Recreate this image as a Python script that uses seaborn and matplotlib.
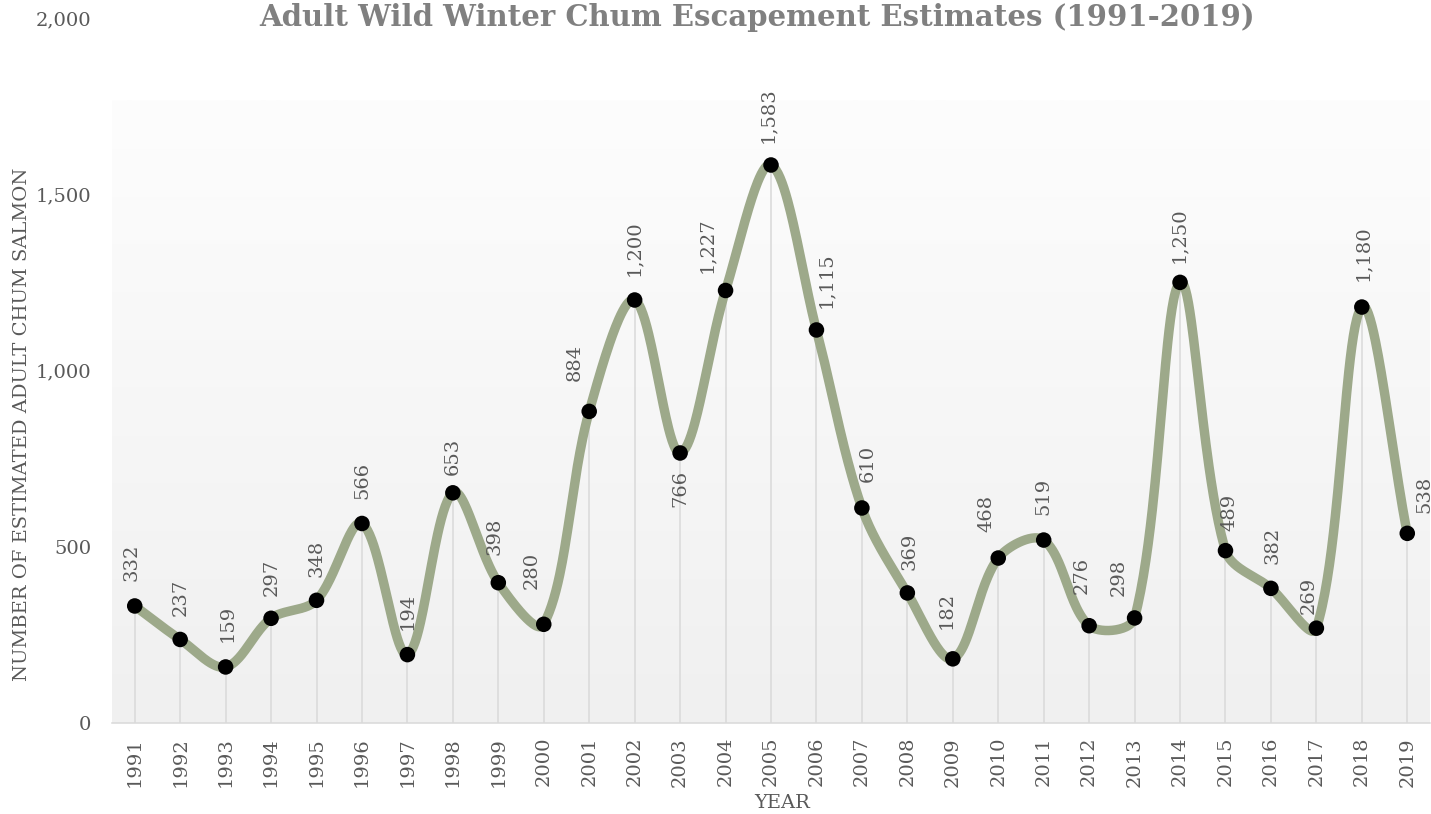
import numpy as np
import pandas as pd
import matplotlib
matplotlib.use("Agg")
import matplotlib.pyplot as plt
import seaborn as sns
from matplotlib.colors import LinearSegmentedColormap

# ---- data -------------------------------------------------------------
years = list(range(1991, 2020))
escapement = [332, 237, 159, 297, 348, 566, 194, 653, 398, 280,
              884, 1200, 766, 1227, 1583, 1115, 610, 369, 182, 468,
              519, 276, 298, 1250, 489, 382, 269, 1180, 538]
y_ticks = [0, 500, 1000, 1500, 2000]

title = "Adult Wild Winter Chum Escapement Estimates (1991-2019)"
x_title = "YEAR"
y_title = "NUMBER OF ESTIMATED ADULT CHUM SALMON"

# data-label placement in pixels: (sideways shift, gap from marker centre;
# a negative gap puts the label under the marker)
label_shift = {
    1991: (-3, 25), 1992: (1, 23), 1993: (2, 25), 1994: (1, 22),
    1995: (0, 23), 1996: (0, 24), 1997: (0, 25), 1998: (0, 18),
    1999: (-4, 28), 2000: (-12, 35), 2001: (-14, 30), 2002: (-1, 24),
    2003: (0, -17), 2004: (-19, 17), 2005: (-3, 22), 2006: (10, 22),
    2007: (6, 26), 2008: (2, 23), 2009: (-6, 30), 2010: (-12, 26),
    2011: (0, 25), 2012: (-7, 32), 2013: (-16, 22), 2014: (-1, 19),
    2015: (4, 20), 2016: (2, 24), 2017: (-8, 14), 2018: (1, 26),
    2019: (17, 20),
}

# ---- style ------------------------------------------------------------
LINE = "#9DA98A"
TEXT = "#595959"
RULE = "#D9D9D9"
PX = 0.72  # points per pixel at 100 dpi
FS = 14

sns.set_theme(style="white")
plt.rcParams["font.family"] = ["DejaVu Serif"]

W, H = 1431, 814
AX_L, AX_R, AX_T, AX_B = 112, 1430, 18, 723
fig = plt.figure(figsize=(W / 100, H / 100), dpi=100)
ax = fig.add_axes([AX_L / W, (H - AX_B) / H,
                   (AX_R - AX_L) / W, (AX_B - AX_T) / H])

pos = np.arange(len(years), dtype=float)
vals = np.array(escapement, dtype=float)


def smooth_path(x, y, sx, sy, steps=50):
    """Cubic Bezier path through every point.

    Tangents follow the neighbouring chord; each control arm is scaled by
    the on-screen length of the adjacent segment, so short flat stretches
    next to steep ones don't overshoot.
    """
    P = np.column_stack([x, y])
    n = len(P)
    scale = np.array([sx, sy])

    def seglen(a, b):
        return np.hypot(*((P[b] - P[a]) * scale))

    back = np.zeros_like(P)
    fwd = np.zeros_like(P)
    for i in range(n):
        a, b = max(i - 1, 0), min(i + 1, n - 1)
        chord = P[b] - P[a]
        d_prev = seglen(a, i)
        d_next = seglen(i, b)
        tot = d_prev + d_next
        if tot == 0:
            continue
        fwd[i] = P[i] + chord * d_next / tot / 3
        back[i] = P[i] - chord * d_prev / tot / 3

    t = np.linspace(0, 1, steps)[:, None]
    out = []
    for i in range(n - 1):
        p0, c1, c2, p3 = P[i], fwd[i], back[i + 1], P[i + 1]
        seg = ((1 - t) ** 3) * p0 + 3 * ((1 - t) ** 2) * t * c1 \
            + 3 * (1 - t) * t ** 2 * c2 + t ** 3 * p3
        out.append(seg if i == 0 else seg[1:])
    out = np.vstack(out)
    return out[:, 0], out[:, 1]


# plot-area background: soft vertical gradient
grad = np.linspace(0, 1, 256)[:, None]
cmap = LinearSegmentedColormap.from_list("bg", ["#F0F0F0", "#FDFDFD"])
ax.imshow(grad, extent=[0, 1, 0, (AX_B - 100) / (AX_B - AX_T)],
          transform=ax.transAxes, aspect="auto", cmap=cmap,
          origin="lower", zorder=0)

# drop lines from each point to the axis
ax.vlines(pos, 0, vals, color=RULE, linewidth=1.1, zorder=1)

# smoothed series line
px_per_x = (AX_R - AX_L) / len(years)
px_per_y = (AX_B - AX_T) / y_ticks[-1]
cx, cy = smooth_path(pos, vals, px_per_x, px_per_y)
curve = pd.DataFrame({"x": cx, "y": cy})
sns.lineplot(data=curve, x="x", y="y", sort=False, estimator=None,
             color=LINE, linewidth=6.8, ax=ax, zorder=3)
for ln in ax.lines:
    ln.set_solid_capstyle("round")
    ln.set_solid_joinstyle("round")

# markers
pts = pd.DataFrame({"x": pos, "y": vals})
sns.scatterplot(data=pts, x="x", y="y", s=125, color="black",
                edgecolor="none", ax=ax, zorder=4)

# data labels
for yr, p, v in zip(years, pos, escapement):
    dx, dy = label_shift[yr]
    ax.annotate(f"{v:,}", (p, v), xytext=(dx * PX, dy * PX),
                textcoords="offset points", rotation=90,
                ha="center", va="bottom" if dy > 0 else "top",
                fontsize=FS, color=TEXT, zorder=5, annotation_clip=False)

# axes
ax.set_xlim(-0.5, len(years) - 0.5)
ax.set_ylim(0, y_ticks[-1])
ax.set_xticks(pos, labels=[str(y) for y in years], rotation=90)
ax.set_yticks(y_ticks, labels=[f"{t:,}" for t in y_ticks])
ax.tick_params(axis="x", length=0, pad=10, labelsize=FS, labelcolor=TEXT)
ax.tick_params(axis="y", length=0, pad=15, labelsize=FS, labelcolor=TEXT)
ax.grid(False)
for side in ("left", "right", "top"):
    ax.spines[side].set_visible(False)
ax.spines["bottom"].set_color(RULE)
ax.spines["bottom"].set_linewidth(1.1)

ax.set_xlabel(x_title, fontsize=FS, color=TEXT)
ax.set_ylabel(y_title, fontsize=FS, color=TEXT)
ax.xaxis.set_label_coords((782 - AX_L) / (AX_R - AX_L),
                          (AX_B - 803) / (AX_B - AX_T))
ax.yaxis.set_label_coords((22 - AX_L) / (AX_R - AX_L),
                          (AX_B - 424) / (AX_B - AX_T))
ax.xaxis.label.set_va("center")
ax.yaxis.label.set_va("center")

fig.text(757 / W, 1 - 26 / H, title, ha="center", va="baseline",
         fontsize=21, fontweight="bold", color="#808080")

fig.savefig("out.png", dpi=100)
